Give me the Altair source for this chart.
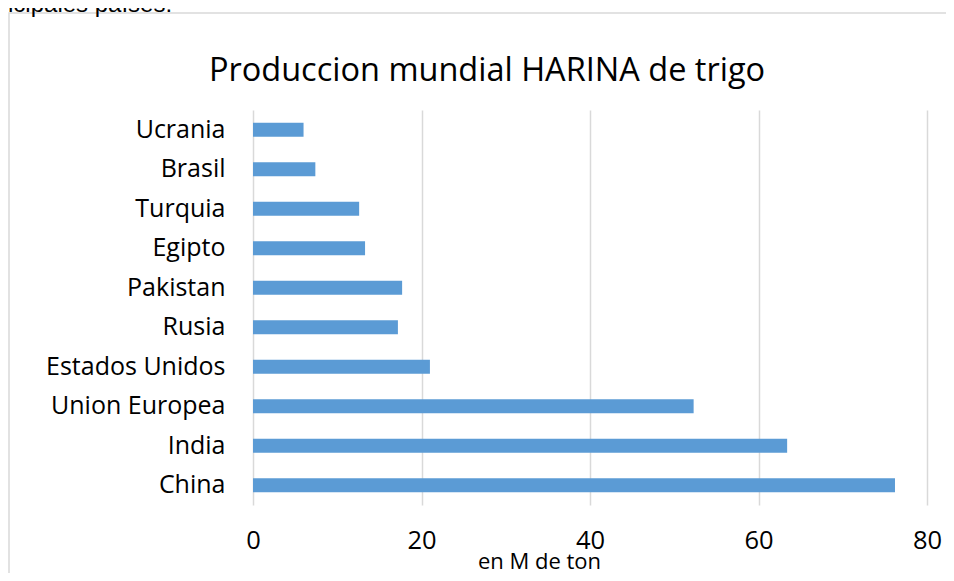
import altair as alt
import pandas as pd

paises = ["Ucrania", "Brasil", "Turquia", "Egipto", "Pakistan", "Rusia",
          "Estados Unidos", "Union Europea", "India", "China"]
produccion = [6.0, 7.4, 12.6, 13.3, 17.7, 17.2, 21.0, 52.3, 63.4, 76.2]

titulo = "Produccion mundial HARINA de trigo"
eje_x = "en M de ton"
texto_superior = "ncipales países:"

df = pd.DataFrame({"pais": paises, "valor": produccion})

FONT = "Open Sans"
W, H = 674, 395

border = alt.Chart(pd.DataFrame({"a": [0]})).mark_rect(
    fill="transparent", stroke="#d9d9d9", strokeWidth=1.5, clip=False
).encode(x=alt.value(-244), x2=alt.value(W + 80), y=alt.value(-97), y2=alt.value(H + 120))

top_text = alt.Chart(pd.DataFrame({"t": [texto_superior]})).mark_text(
    align="left", baseline="alphabetic", font="Liberation Sans", fontSize=24,
    color="#000000", clip=False
).encode(x=alt.value(-253), y=alt.value(-98), text="t:N")

title_text = alt.Chart(pd.DataFrame({"t": [titulo]})).mark_text(
    align="center", baseline="alphabetic", font=FONT, fontSize=32.5,
    color="#000000", clip=False
).encode(x=alt.value(234), y=alt.value(-29), text="t:N")

bars = alt.Chart(df).mark_bar(color="#5B9BD5", size=14).encode(
    x=alt.X("valor:Q", scale=alt.Scale(domain=[0, 80], nice=False),
            axis=alt.Axis(values=[0, 20, 40, 60, 80], title=eje_x, grid=True,
                          gridColor="#d9d9d9", gridWidth=1.5, domain=False, ticks=False,
                          labelFlush=False, labelFont=FONT, labelFontSize=25.5,
                          labelColor="#000000", labelPadding=23, titleFont=FONT,
                          titleFontSize=22, titleFontWeight="normal",
                          titleColor="#000000", titleX=286, titleY=63,
                          titleAlign="center", titleBaseline="alphabetic")),
    y=alt.Y("pais:N", sort=paises, title=None,
            axis=alt.Axis(domain=False, ticks=False, grid=False, labelFont=FONT,
                          labelFontSize=25, labelColor="#000000", labelPadding=28)),
)

chart = alt.layer(border, top_text, title_text, bars).properties(
    width=W, height=H,
    autosize=alt.AutoSizeParams(type="none"),
    padding={"left": 245, "top": 102, "right": 19, "bottom": 68},
).configure_view(stroke=None)

chart.save("out.html", embed_options={"renderer": "svg", "actions": False})
